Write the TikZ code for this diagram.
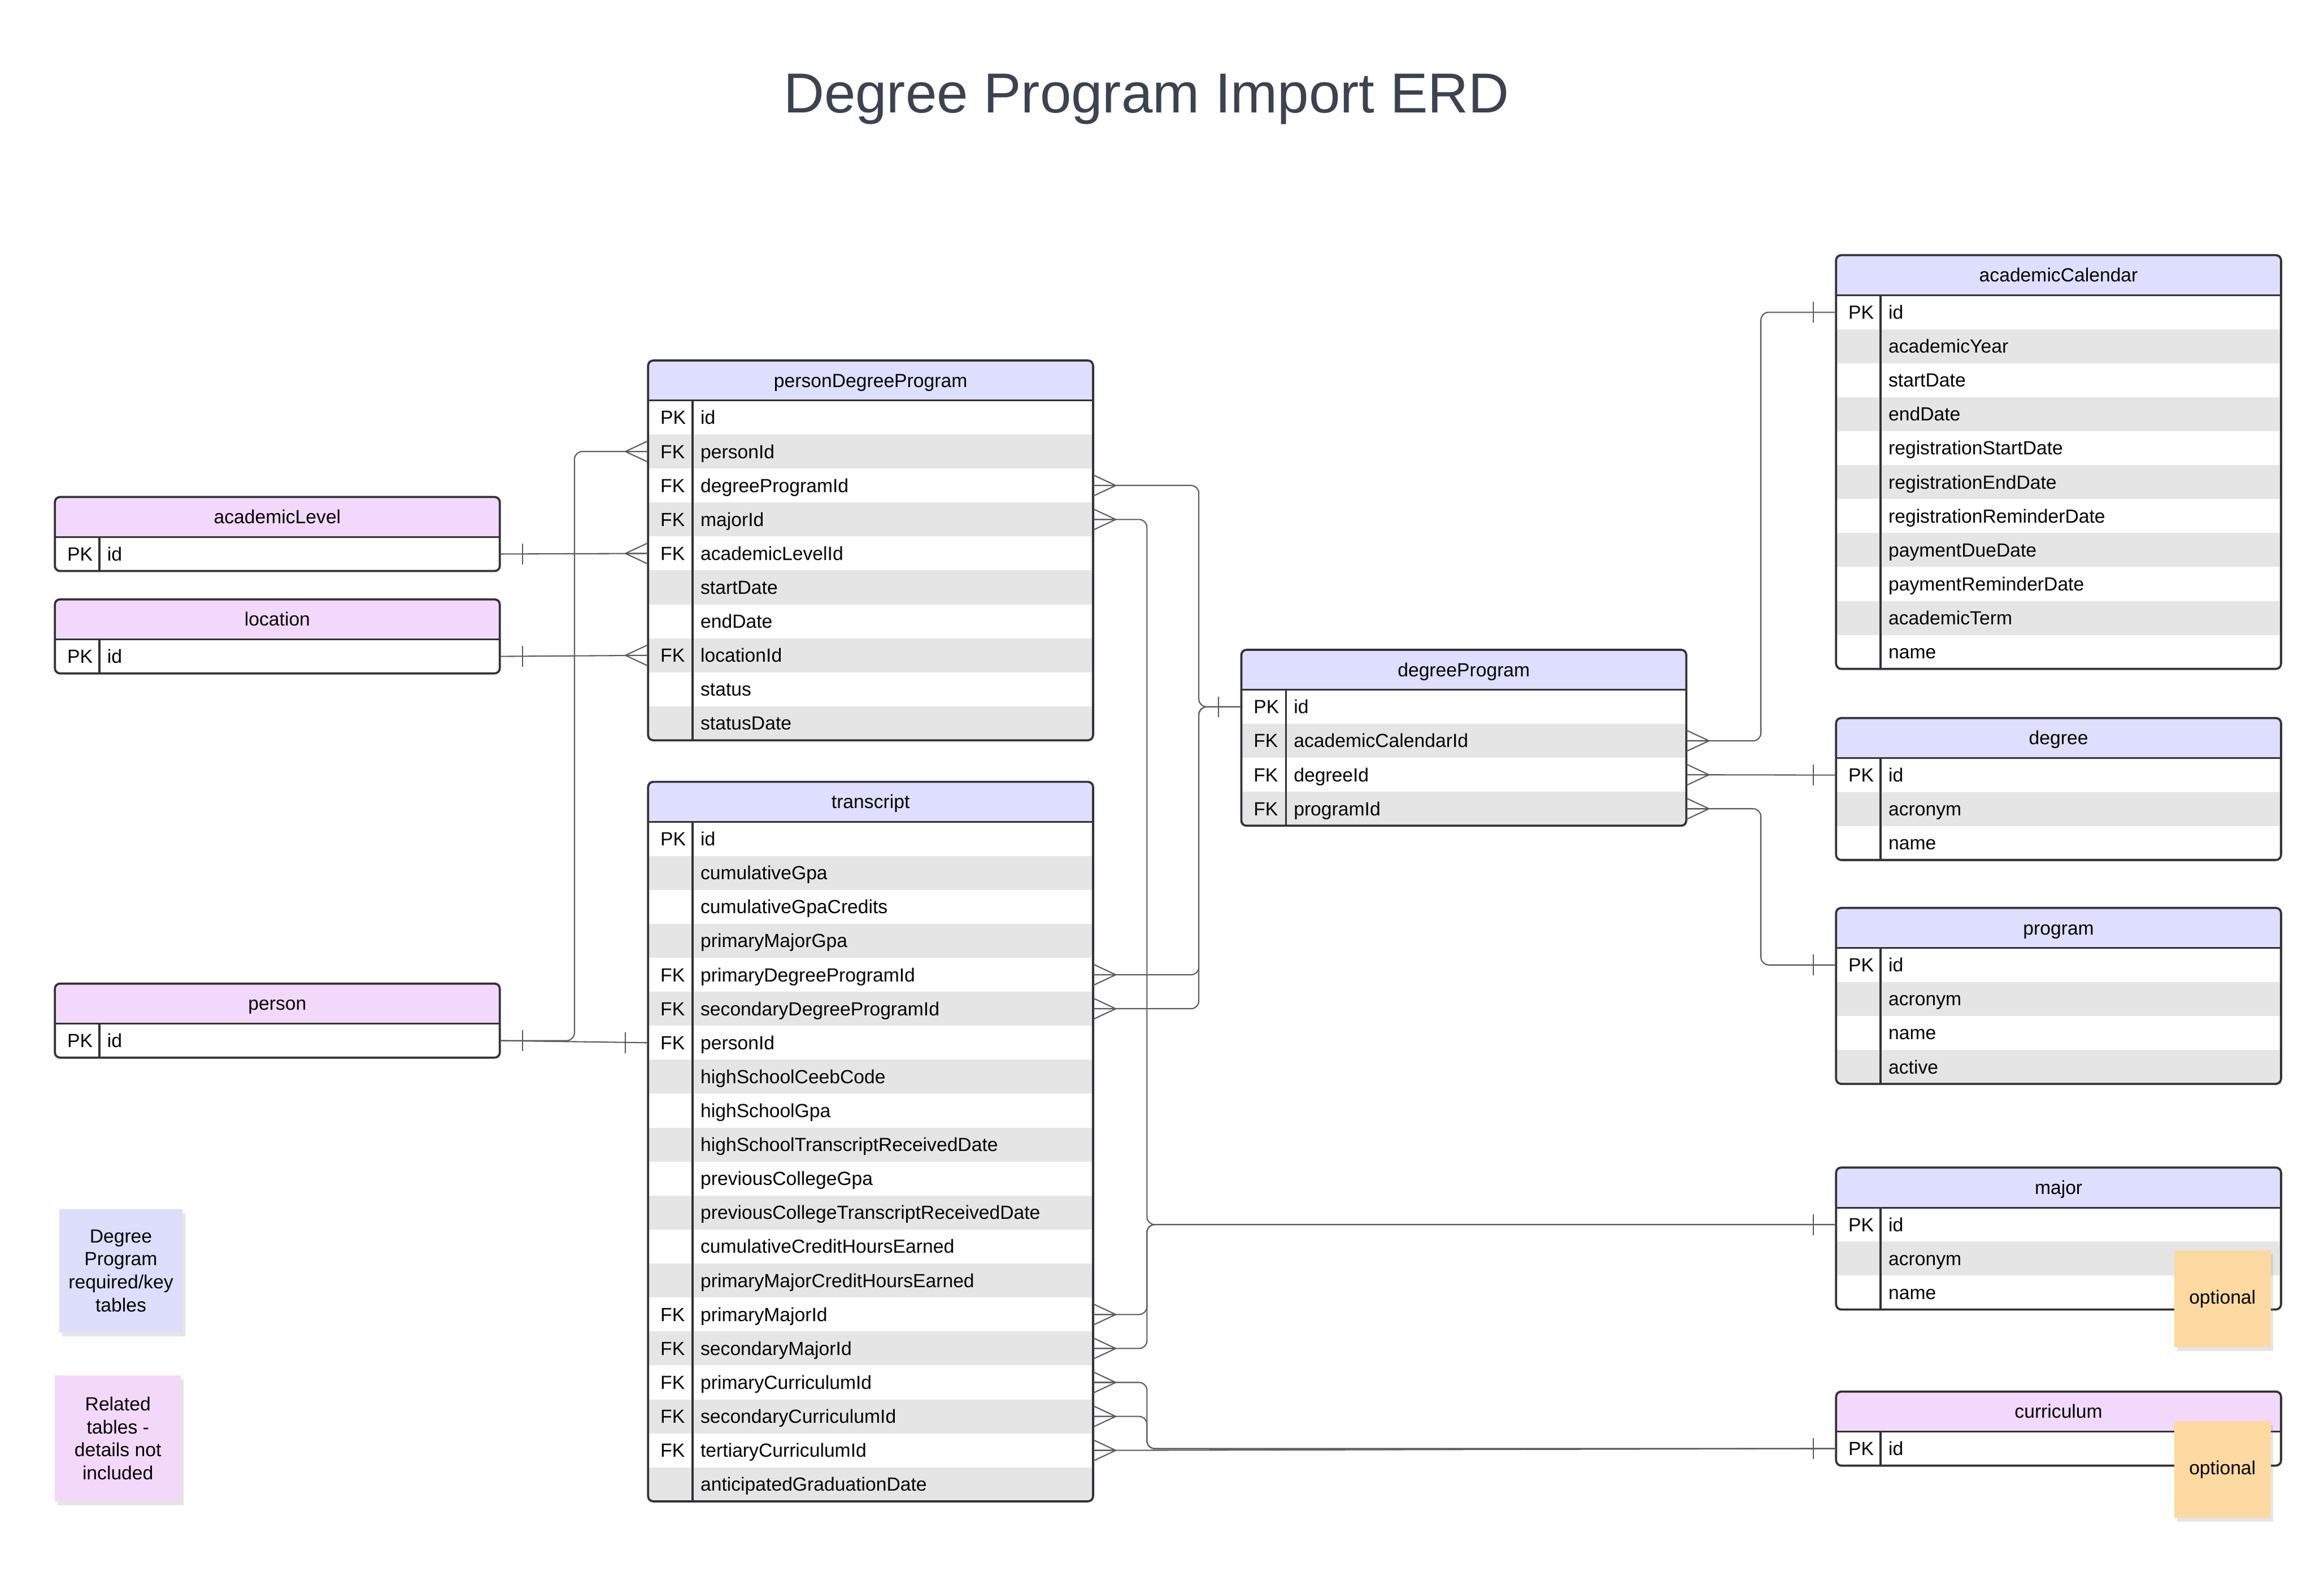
\documentclass[tikz,border=0pt]{standalone}
\usepackage{fontspec}
\setmainfont{Liberation Sans}
\usetikzlibrary{shadows}
\definecolor{hblue}{RGB}{222,222,255}
\definecolor{hpink}{RGB}{242,216,250}
\definecolor{rowgray}{RGB}{229,229,229}
\definecolor{conncol}{RGB}{90,90,90}
\definecolor{bordercol}{RGB}{50,50,55}
\definecolor{noteblue}{RGB}{220,222,252}
\definecolor{notepink}{RGB}{244,216,250}
\definecolor{noteorange}{RGB}{252,217,160}
\definecolor{titlecol}{RGB}{59,66,80}
\tikzset{
  txt/.style={font=\fontsize{7.3}{9}\selectfont, inner sep=0pt},
  conn/.style={draw=conncol, line width=0.45pt},
  rowbox/.style={minimum width=6cm, minimum height=0.458cm, inner sep=0pt, draw=none},
  note/.style={drop shadow={opacity=0.2, shadow xshift=1pt, shadow yshift=-1.5pt}, font=\fontsize{7.3}{8.8}\selectfont, align=center, inner sep=0pt}
}
\newcommand\erdtable[6]{%
  \fill[#4] (#2,#3) rectangle ++(300,27);
  \node[txt,anchor=base] (#1-h) at (#2+150,#3+18) {#5};
  \foreach [count=\i] \k/\f in {#6} {
    \pgfmathsetmacro\yy{#3+27+(\i-1)*22.9}
    \ifodd\i\else\fill[rowgray] (#2,\yy) rectangle ++(300,22.9);\fi
    \node[rowbox] (#1-\i) at (#2+150,\yy+11.45) {};
    \node[txt,anchor=base west] (#1-k\i) at (#2+8,\yy+16) {\k};
    \node[txt,anchor=base west] (#1-f\i) at (#2+35,\yy+16) {\f};
    \xdef\nrows{\i}
  }
  \pgfmathsetmacro\ybot{#3+27+\nrows*22.9}
  \draw[bordercol, line width=0.7pt] (#2,#3+27) -- ++(300,0);
  \draw[bordercol, line width=0.7pt] (#2+30,#3+27) -- (#2+30,\ybot);
  \draw[bordercol, line width=0.8pt, rounded corners=2pt] (#2,#3) rectangle (#2+300,\ybot);
}
\newcommand\crowR[1]{\draw[conn] (#1) ++(15,0) -- ++(-15,-7) ++(15,7) -- ++(-15,0) ++(15,0) -- ++(-15,7);}
\newcommand\crowL[1]{\draw[conn] (#1) ++(-15,0) -- ++(15,-7) ++(-15,7) -- ++(15,0) ++(-15,0) -- ++(15,7);}
\newcommand\barR[1]{\draw[conn] (#1) ++(15,-7) -- ++(0,14);}
\newcommand\barL[1]{\draw[conn] (#1) ++(-15,-7) -- ++(0,14);}
\begin{document}
\begin{tikzpicture}[x=0.02cm,y=-0.02cm]
\useasboundingbox[fill=white] (0,0) rectangle (1567,1059.3);
\node[font=\fontsize{21.6}{26}\selectfont, text=titlecol] (title) at (773,67) {Degree Program Import ERD};

\erdtable{pdp}{437}{243}{hblue}{personDegreeProgram}{PK/id, FK/personId, FK/degreeProgramId, FK/majorId, FK/academicLevelId, /startDate, /endDate, FK/locationId, /status, /statusDate}
\erdtable{al}{37}{335}{hpink}{academicLevel}{PK/id}
\erdtable{loc}{37}{404}{hpink}{location}{PK/id}
\erdtable{per}{37}{663}{hpink}{person}{PK/id}
\erdtable{tr}{437}{527}{hblue}{transcript}{PK/id, /cumulativeGpa, /cumulativeGpaCredits, /primaryMajorGpa, FK/primaryDegreeProgramId, FK/secondaryDegreeProgramId, FK/personId, /highSchoolCeebCode, /highSchoolGpa, /highSchoolTranscriptReceivedDate, /previousCollegeGpa, /previousCollegeTranscriptReceivedDate, /cumulativeCreditHoursEarned, /primaryMajorCreditHoursEarned, FK/primaryMajorId, FK/secondaryMajorId, FK/primaryCurriculumId, FK/secondaryCurriculumId, FK/tertiaryCurriculumId, /anticipatedGraduationDate}
\erdtable{dp}{837}{438}{hblue}{degreeProgram}{PK/id, FK/academicCalendarId, FK/degreeId, FK/programId}
\erdtable{ac}{1238}{172}{hblue}{academicCalendar}{PK/id, /academicYear, /startDate, /endDate, /registrationStartDate, /registrationEndDate, /registrationReminderDate, /paymentDueDate, /paymentReminderDate, /academicTerm, /name}
\erdtable{deg}{1238}{484}{hblue}{degree}{PK/id, /acronym, /name}
\erdtable{prog}{1238}{612}{hblue}{program}{PK/id, /acronym, /name, /active}
\erdtable{maj}{1238}{787}{hblue}{major}{PK/id, /acronym, /name}
\erdtable{cur}{1238}{938}{hpink}{curriculum}{PK/id}

% connectors
\begin{scope}[rounded corners=3pt]
\draw[conn] (per-1.east) -- ++(50,0) |- (pdp-2.west);
\draw[conn] (per-1.east) -- (tr-7.west);
\draw[conn] (al-1.east) -- (pdp-5.west);
\draw[conn] (loc-1.east) -- (pdp-8.west);
\draw[conn] (pdp-3.east) -- ++(71,0) |- (dp-1.west);
\draw[conn] (tr-5.east) -- ++(71,0) |- (dp-1.west);
\draw[conn] (tr-6.east) -- ++(71,0) |- (dp-1.west);
\draw[conn] (pdp-4.east) -- ++(36,0) |- (maj-1.west);
\draw[conn] (tr-15.east) -- ++(36,0) |- (maj-1.west);
\draw[conn] (tr-16.east) -- ++(36,0) |- (maj-1.west);
\draw[conn] (tr-17.east) -- ++(36,0) |- (cur-1.west);
\draw[conn] (tr-18.east) -- ++(36,0) |- (cur-1.west);
\draw[conn] (tr-19.east) -- (cur-1.west);
\draw[conn] (dp-2.east) -- ++(50,0) |- (ac-1.west);
\draw[conn] (dp-3.east) -- (deg-1.west);
\draw[conn] (dp-4.east) -- ++(50,0) |- (prog-1.west);
\end{scope}
\crowL{pdp-2.west}\crowL{pdp-5.west}\crowL{pdp-8.west}
\crowR{pdp-3.east}\crowR{pdp-4.east}
\crowR{tr-5.east}\crowR{tr-6.east}\crowR{tr-15.east}\crowR{tr-16.east}
\crowR{tr-17.east}\crowR{tr-18.east}\crowR{tr-19.east}
\crowR{dp-2.east}\crowR{dp-3.east}\crowR{dp-4.east}
\barR{per-1.east}\barR{al-1.east}\barR{loc-1.east}
\barL{tr-7.west}\barL{dp-1.west}\barL{maj-1.west}\barL{cur-1.west}
\barL{ac-1.west}\barL{deg-1.west}\barL{prog-1.west}

% notes
\node[note, fill=noteblue, minimum width=1.66cm, minimum height=1.66cm] (n1) at (81.5,856.5) {Degree\\Program\\required/key\\tables};
\node[note, fill=notepink, minimum width=1.70cm, minimum height=1.70cm] (n2) at (79.5,969.5) {Related\\tables -\\details not\\included};
\node[note, fill=noteorange, minimum width=1.30cm, minimum height=1.30cm] (n3) at (1498.5,875.5) {optional};
\node[note, fill=noteorange, minimum width=1.30cm, minimum height=1.30cm] (n4) at (1498.5,990.5) {optional};
\end{tikzpicture}
\end{document}
